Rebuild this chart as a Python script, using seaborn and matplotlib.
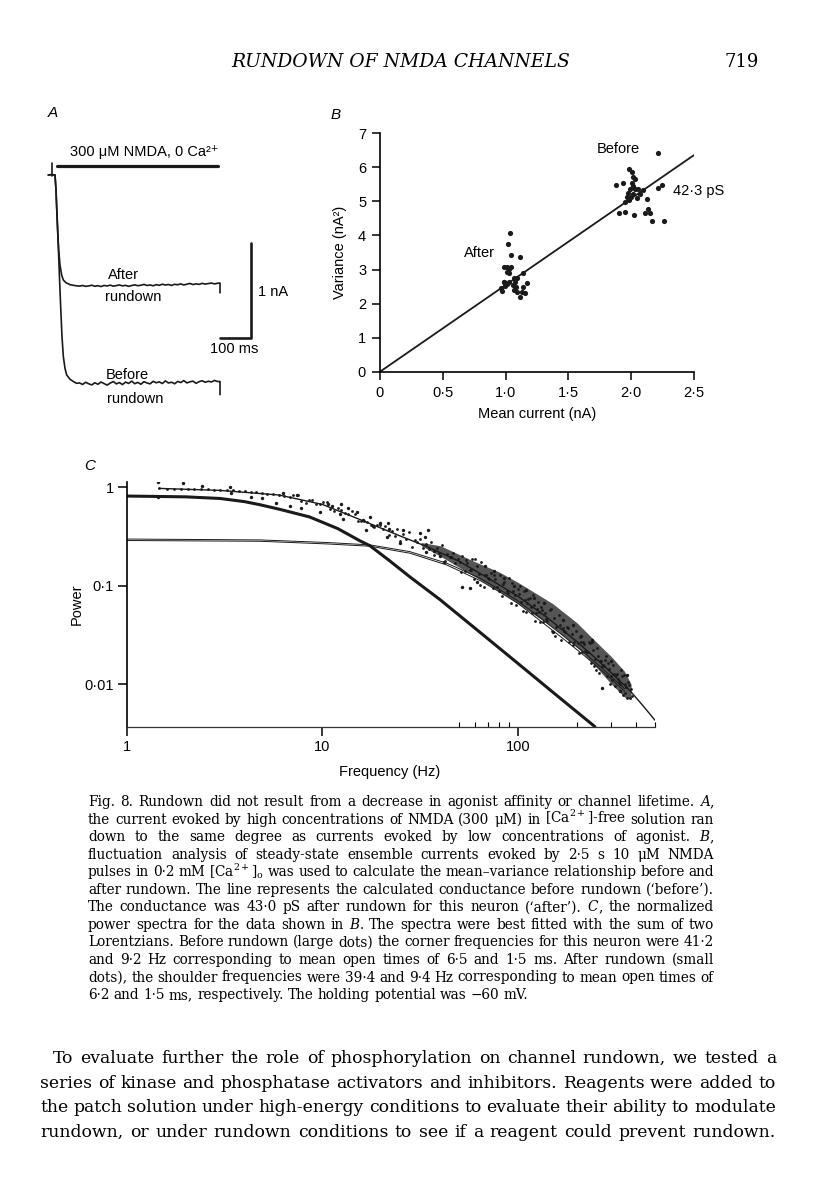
import matplotlib
matplotlib.use("Agg")
import matplotlib.pyplot as plt
from matplotlib.transforms import IdentityTransform
from matplotlib.ticker import FixedLocator, NullLocator, NullFormatter
import seaborn as sns

W, H = 816, 1200

# ---------------- data: panel A, whole-cell currents (ms, nA)
plateau_t = [80, 90, 100, 110, 120, 130, 140, 150, 160, 170, 180, 190, 200, 210, 220, 230,
             240, 250, 260, 270, 280, 290, 300, 310, 320, 330, 340, 350, 360, 370, 380, 390,
             400, 410, 420, 430, 440, 450, 460, 470, 480, 490, 500, 510, 520, 530]
after_t = [-22, -11, 0, 3.3, 5.4, 8.7, 12, 16.3, 21.7, 27.2, 35.9, 48.9, 60, 70] + plateau_t + [538, 538]
after_i = [0, 0.004, 0, -0.159, -0.336, -0.583, -0.795, -0.954, -1.06, -1.114, -1.142, -1.163, -1.170, -1.175,
           -1.178, -1.172, -1.181, -1.176, -1.169, -1.180, -1.174, -1.183, -1.171, -1.177,
           -1.168, -1.179, -1.173, -1.166, -1.176, -1.170, -1.181, -1.172, -1.165, -1.174,
           -1.169, -1.160, -1.172, -1.166, -1.175, -1.163, -1.170, -1.158, -1.167, -1.161,
           -1.171, -1.159, -1.164, -1.155, -1.166, -1.158, -1.150, -1.162, -1.154, -1.160,
           -1.149, -1.157, -1.151, -1.146, -1.155, -1.148,
           -1.146, -1.25]
before_t = [-22, -11, 0, 3.3, 5.4, 8.7, 10.9, 14.1, 18.5, 22.8, 27.2, 32.6, 38, 48.9, 59.8, 70.6] + plateau_t + [538, 538]
before_i = [0, 0.004, 0, -0.159, -0.336, -0.6, -0.76, -1.043, -1.396, -1.714, -1.926, -2.05, -2.12, -2.166, -2.19, -2.209,
            -2.205, -2.221, -2.198, -2.214, -2.226, -2.203, -2.219, -2.195, -2.212, -2.228,
            -2.207, -2.190, -2.215, -2.201, -2.222, -2.196, -2.210, -2.186, -2.213, -2.199,
            -2.219, -2.192, -2.205, -2.215, -2.188, -2.203, -2.194, -2.211, -2.183, -2.206,
            -2.197, -2.214, -2.189, -2.201, -2.180, -2.205, -2.193, -2.186, -2.209, -2.191,
            -2.182, -2.198, -2.187, -2.195, -2.178, -2.190,
            -2.19, -2.33]
onset_t, onset_i = [-10.8, -10.8], [0.124, -0.01]
bar_t, bar_i = [5.5, 532], [0.095, 0.095]
scale_t, scale_i = [538, 638, 638], [-1.725, -1.725, -0.724]

# ---------------- data: panel B, mean-variance (nA, nA^2)
before_mean = [1.876, 1.937, 1.982, 2.009, 2.017, 2.030, 2.004, 1.990, 2.030, 2.057, 2.017, 1.996,
               1.964, 1.951, 1.906, 1.951, 2.025, 2.070, 2.097, 2.123, 2.136, 2.110, 2.150, 2.168,
               2.211, 2.216, 2.243, 2.264, 1.977, 2.044, 1.985, 2.012]
before_var = [5.48, 5.53, 5.94, 5.85, 5.72, 5.66, 5.55, 5.35, 5.35, 5.35, 5.22, 5.14,
              5.14, 4.99, 4.65, 4.68, 4.60, 5.23, 5.33, 5.07, 4.79, 4.65, 4.65, 4.43,
              6.41, 5.38, 5.48, 4.43, 5.25, 5.09, 5.04, 5.45]
after_mean = [1.035, 1.02, 1.045, 1.115, 0.99, 1.01, 1.03, 1.045, 1.015, 1.03, 1.141, 1.088,
              1.075, 0.99, 1.025, 0.995, 1.01, 1.06, 1.07, 1.085, 1.088, 1.128, 1.154, 1.115,
              1.141, 1.168, 0.96, 0.975, 0.985, 1.065]
after_var = [4.08, 3.74, 3.44, 3.38, 3.08, 3.08, 3.03, 3.08, 2.94, 2.89, 2.89, 2.74,
             2.64, 2.64, 2.64, 2.51, 2.57, 2.54, 2.40, 2.50, 2.35, 2.35, 2.30, 2.20,
             2.48, 2.61, 2.45, 2.38, 2.64, 2.74]
fit_x, fit_y = [0, 2.5], [0, 6.36]

# ---------------- data: panel C, normalized power spectra
after_f = [1.46, 1.6, 1.75, 1.9, 2.05, 2.2, 2.4, 2.6, 2.8, 3.0, 3.25, 3.5, 3.75, 4.0, 4.3, 4.6, 4.9, 5.2, 5.6, 6.0,
           6.4, 7.1, 7.8, 8.5, 9.3, 10.1, 11, 12, 13, 14.1, 15.2, 16.4, 17.7, 19,
           6.8, 7.5, 8.2, 8.9, 9.7, 10.6, 11.5, 12.5, 13.5, 14.6, 15.8, 17, 18.3, 19.6,
           20.3, 21, 21.8, 22.6, 23.4, 24.2, 25, 25.9, 26.8, 27.7, 28.6, 29.6, 30.6, 31.6,
           32.7, 33.8, 34.9, 36, 37.2, 38.4, 39.6, 40.9, 42.2, 43.5, 44.9, 46.3, 47.7, 49.2,
           50.5, 52, 53.5, 55, 56.6, 58.2, 59.8, 61.5, 63.2, 65, 66.8, 68.6, 70.5, 72.4, 74.4,
           76.4, 78.5, 80.6, 82.8, 85, 87.3, 89.6, 92, 94.4, 96.9, 99.4,
           51.2, 54.2, 57.4, 60.6, 64.1, 67.7, 71.4, 75.4, 79.5, 83.9, 88.4, 93.2, 98.1,
           101, 104, 107, 110, 113, 116, 119, 122, 125, 128, 131, 134, 137, 141, 145, 149,
           153, 157, 161, 165, 169, 173, 178, 183, 188, 193, 198,
           102.5, 105.5, 108.5, 111.5, 114.5, 117.5, 120.5, 123.5, 126.5, 129.5, 133, 139, 147,
           155, 163, 171, 180.5, 190.5,
           203, 208, 213, 218, 224, 230, 236, 242, 248, 254, 260, 266, 272, 279, 286, 293, 300,
           307, 314, 321, 328, 335, 342, 350, 358, 366, 374,
           205.5, 215.5, 227, 239, 251, 263, 275.5, 289.5, 303.5, 317.5, 331.5, 346, 362, 370,
           210.5, 221, 233, 245, 257, 269, 282.5, 296.5, 310.5, 324.5, 338.5, 354, 378, 382]
after_p = [0.975, 0.97, 0.972, 0.965, 0.968, 0.962, 0.958, 0.955, 0.948, 0.93, 0.935, 0.93, 0.918, 0.91, 0.9,
           0.89, 0.875, 0.86, 0.85, 0.835,
           0.820, 0.838, 0.733, 0.745, 0.676, 0.715, 0.597, 0.622, 0.553, 0.570, 0.455, 0.455, 0.415, 0.416,
           0.793, 0.839, 0.700, 0.736, 0.672, 0.712, 0.575, 0.587, 0.540, 0.532, 0.450, 0.444, 0.396, 0.414,
           0.376, 0.407, 0.327, 0.362, 0.323, 0.377, 0.282, 0.334, 0.298, 0.355, 0.249, 0.290, 0.276, 0.298,
           0.239, 0.264, 0.236, 0.276, 0.206, 0.244, 0.217, 0.257, 0.180, 0.210, 0.198, 0.214, 0.171, 0.188,
           0.175, 0.201, 0.142, 0.171, 0.144, 0.188, 0.116, 0.158, 0.131, 0.173, 0.0965, 0.128, 0.119,
           0.136, 0.0955, 0.116, 0.0977, 0.128, 0.0792, 0.108, 0.0893, 0.119, 0.0661, 0.0874, 0.081, 0.092,
           0.138, 0.183, 0.146, 0.189, 0.101, 0.130, 0.117, 0.130, 0.089, 0.104, 0.085, 0.107, 0.0636,
           0.0824, 0.0688, 0.0888, 0.0544, 0.0728, 0.0605, 0.0805, 0.0441, 0.0582, 0.054, 0.0614, 0.043,
           0.0524, 0.0437, 0.0563, 0.0344, 0.0465, 0.0384, 0.0508, 0.0281, 0.0369, 0.034, 0.0384, 0.0267,
           0.0321, 0.0265, 0.0344,
           0.0997, 0.0551, 0.0723, 0.0665, 0.0755, 0.0533, 0.0637, 0.053, 0.0688, 0.0424, 0.0566, 0.0461,
           0.0581, 0.0312, 0.0395, 0.035, 0.0375, 0.0252,
           0.0264, 0.0301, 0.0212, 0.0254, 0.0212, 0.0269, 0.0165, 0.0220, 0.0180, 0.0235, 0.0129, 0.0170,
           0.0156, 0.0176, 0.0122, 0.0144, 0.0121, 0.0155, 0.0095, 0.0128, 0.0106, 0.0140, 0.0077, 0.0101,
           0.0093, 0.0105, 0.0073,
           0.0208, 0.0270, 0.0212, 0.0265, 0.0138, 0.0173, 0.0152, 0.0164, 0.0109, 0.0124, 0.0100, 0.0124,
           0.0073, 0.0097,
           0.0268, 0.0216, 0.0263, 0.0153, 0.0195, 0.0154, 0.0191, 0.0101, 0.0126, 0.0112, 0.0122, 0.0082,
           0.0089, 0.0076]
before_f = [1.45, 1.45, 1.95, 2.42, 3.37, 3.4, 4.3, 4.9, 5.8, 6.3, 6.8, 7.4, 7.8, 9.7, 10.7, 11.2, 12.3,
            12.5, 12.8, 13.5, 15.0, 16.2, 16.8, 17.5, 18.2, 19.7, 21.3, 21.7, 22.0, 24.9, 25.9, 31.5,
            33.5, 34.5, 34.0, 37.0, 40.0, 42.0, 45.5, 52, 57, 62, 68, 75, 85, 95, 110, 120, 135, 150,
            170, 190, 210, 240, 269, 300, 330, 360]
before_p = [1.14, 0.80, 1.11, 1.03, 1.01, 0.87, 0.80, 0.77, 0.70, 0.88, 0.645, 0.83, 0.61, 0.565, 0.68,
            0.65, 0.54, 0.68, 0.48, 0.61, 0.565, 0.47, 0.37, 0.50, 0.40, 0.43, 0.31, 0.43, 0.38, 0.27,
            0.37, 0.34, 0.31, 0.37, 0.22, 0.225, 0.20, 0.175, 0.197, 0.097, 0.094, 0.11, 0.16, 0.14, 0.12,
            0.10, 0.09, 0.075, 0.066, 0.034, 0.045, 0.040, 0.031, 0.028, 0.0092, 0.017, 0.0085, 0.0125]
band_f = [32, 40, 60, 80, 100, 150, 200, 250, 300, 350, 378]
band_lo = [0.255, 0.2, 0.124, 0.088, 0.066, 0.038, 0.024, 0.0150, 0.0100, 0.0074, 0.0070]
band_hi = [0.275, 0.255, 0.176, 0.138, 0.108, 0.066, 0.042, 0.027, 0.019, 0.0135, 0.0100]
slow_f = [1, 2, 3, 4, 4.8, 6, 8.6, 12, 15.6, 17.5, 22, 28, 40, 63, 100, 160, 247]
slow_p = [0.815, 0.80, 0.77, 0.715, 0.665, 0.60, 0.50, 0.38, 0.285, 0.255, 0.18, 0.123, 0.072,
          0.0344, 0.0162, 0.0075, 0.0037]
fast_f = [1, 4.8, 10.5, 17.5, 28, 43, 50.4, 65, 80, 100, 130, 170, 220, 280, 350]
fast_before_p = [0.298, 0.292, 0.275, 0.26, 0.222, 0.17, 0.148, 0.117, 0.092, 0.070, 0.047, 0.031,
                 0.0205, 0.0135, 0.0090]
fast_after_p = [0.288, 0.283, 0.266, 0.252, 0.214, 0.163, 0.141, 0.111, 0.087, 0.066, 0.044, 0.029,
                0.0192, 0.0127, 0.0085]
sum_f = [1.46, 3, 6, 10, 16, 25, 35, 50, 70, 100, 140, 200, 260, 320, 375, 430, 501]
sum_p = [0.975, 0.93, 0.835, 0.67, 0.46, 0.32, 0.245, 0.177, 0.12, 0.078, 0.048, 0.027, 0.017,
         0.0115, 0.0085, 0.0062, 0.0043]

caption = [
    "Fig. 8. Rundown did not result from a decrease in agonist affinity or channel lifetime. *A*,",
    "the current evoked by high concentrations of NMDA (300 μM) in [Ca$^{2+}$]-free solution ran",
    "down to the same degree as currents evoked by low concentrations of agonist. *B*,",
    "fluctuation analysis of steady-state ensemble currents evoked by 2·5 s 10 μM NMDA",
    "pulses in 0·2 mM [Ca$^{2+}$]$_\\mathrm{o}$ was used to calculate the mean–variance relationship before and",
    "after rundown. The line represents the calculated conductance before rundown (‘before’).",
    "The conductance was 43·0 pS after rundown for this neuron (‘after’). *C*, the normalized",
    "power spectra for the data shown in *B*. The spectra were best fitted with the sum of two",
    "Lorentzians. Before rundown (large dots) the corner frequencies for this neuron were 41·2",
    "and 9·2 Hz corresponding to mean open times of 6·5 and 1·5 ms. After rundown (small",
    "dots), the shoulder frequencies were 39·4 and 9·4 Hz corresponding to mean open times of",
    "6·2 and 1·5 ms, respectively. The holding potential was −60 mV.",
]
body = [
    "To evaluate further the role of phosphorylation on channel rundown, we tested a",
    "series of kinase and phosphatase activators and inhibitors. Reagents were added to",
    "the patch solution under high-energy conditions to evaluate their ability to modulate",
    "rundown, or under rundown conditions to see if a reagent could prevent rundown.",
]

# ---------------- style
sns.set_theme(style="ticks")
SANS = ["Liberation Sans", "DejaVu Sans"]
SERIF = ["DejaVu Serif", "DejaVu Sans"]
plt.rcParams["font.family"] = SANS
plt.rcParams["mathtext.fontset"] = "dejavuserif"
plt.rcParams["axes.linewidth"] = 1.2
for key in ["text.color", "axes.labelcolor", "xtick.color", "ytick.color", "axes.edgecolor"]:
    plt.rcParams[key] = "black"

fig = plt.figure(figsize=(W / 100, H / 100), dpi=100)
fig.patch.set_facecolor("white")
rend = fig.canvas.get_renderer()


def box(l, t, r, b):
    return [l / W, 1 - b / H, (r - l) / W, (b - t) / H]


def seg_word(w):
    parts = w.split("*")
    return [(p, "italic" if k % 2 else "normal") for k, p in enumerate(parts) if p]


def words_width(line, size):
    total = 0
    for w in line.split():
        for s, st in seg_word(w):
            t = fig.text(0, 0, s, fontsize=size, family=SERIF, style=st, transform=IdentityTransform())
            total += t.get_window_extent(rend).width
            t.remove()
    return total


def fit_size(lines, widths, gmin):
    return min(10 * (wd - (len(l.split()) - 1) * gmin) / words_width(l, 10)
               for l, wd in zip(lines, widths))


def set_line(line, x0, x1, base, size, justify=True):
    placed, total = [], 0
    for w in line.split():
        items, wsum = [], 0
        for s, st in seg_word(w):
            t = fig.text(0, H - base, s, fontsize=size, family=SERIF, style=st,
                         transform=IdentityTransform(), ha="left", va="baseline")
            items.append((t, wsum))
            wsum += t.get_window_extent(rend).width
        placed.append((items, wsum))
        total += wsum
    gap = (x1 - x0 - total) / (len(placed) - 1) if justify else size * 0.42
    x = x0
    for items, wsum in placed:
        for t, off in items:
            t.set_x(x + off)
        x += wsum + gap


# ---------------- panel A
axA = fig.add_axes(box(40, 140, 300, 410))
for tx, iy in [(after_t, after_i), (before_t, before_i), (onset_t, onset_i)]:
    sns.lineplot(x=tx, y=iy, ax=axA, color="k", lw=1.2, estimator=None, sort=False)
sns.lineplot(x=bar_t, y=bar_i, ax=axA, color="k", lw=2.3, estimator=None, sort=False)
sns.lineplot(x=scale_t, y=scale_i, ax=axA, color="k", lw=1.9, estimator=None, sort=False)
axA.set_xlim(-48.9, 798.8)
axA.set_ylim(-2.492, 0.371)
axA.axis("off")
axA.text(290, 0.247, "300 μM NMDA, 0 Ca²⁺", ha="center", va="center", fontsize=10.5)
axA.text(223, -1.06, "After", ha="center", va="center", fontsize=10.5)
axA.text(255, -1.297, "rundown", ha="center", va="center", fontsize=10.5)
axA.text(236, -2.121, "Before", ha="center", va="center", fontsize=10.5)
axA.text(261, -2.379, "rundown", ha="center", va="center", fontsize=10.5)
axA.text(712, -1.244, "1 nA", ha="center", va="center", fontsize=10.5)
axA.text(584, -1.848, "100 ms", ha="center", va="center", fontsize=10.5)

# ---------------- panel B
axB = fig.add_axes(box(380, 133.3, 694, 371.7))
sns.lineplot(x=fit_x, y=fit_y, ax=axB, color="k", lw=1.3)
sns.scatterplot(x=before_mean, y=before_var, ax=axB, color="k", s=14, linewidth=0)
sns.scatterplot(x=after_mean, y=after_var, ax=axB, color="k", s=14, linewidth=0)
axB.set_xlim(0, 2.5)
axB.set_ylim(0, 7)
axB.set_xticks([0, 0.5, 1, 1.5, 2, 2.5])
axB.set_xticklabels(["0", "0·5", "1·0", "1·5", "2·0", "2·5"])
axB.set_yticks(range(8))
axB.set_yticklabels([str(v) for v in range(8)])
axB.tick_params(direction="out", length=6, width=1.1, labelsize=10.5, pad=4)
sns.despine(ax=axB)
axB.set_xlabel("Mean current (nA)", fontsize=10.5)
axB.set_ylabel("Variance (nA²)", fontsize=10.5)
axB.xaxis.set_label_coords(0.5, -0.15)
axB.yaxis.set_label_coords(-0.105, 0.5)
axB.text(1.90, 6.53, "Before", ha="center", va="center", fontsize=10.5)
axB.text(0.79, 3.49, "After", ha="center", va="center", fontsize=10.5)
axB.text(2.335, 5.31, "42·3 pS", ha="left", va="center", fontsize=10.5)
for c in axB.collections:
    c.set_clip_on(False)

# ---------------- panel C
axC = fig.add_axes(box(126.7, 481.7, 655, 727))
axC.fill_between(band_f, band_lo, band_hi, color="0.08", alpha=0.72, lw=0)
sns.lineplot(x=slow_f, y=slow_p, ax=axC, color="k", lw=2.2)
sns.lineplot(x=fast_f, y=fast_before_p, ax=axC, color="k", lw=0.7)
sns.lineplot(x=fast_f, y=fast_after_p, ax=axC, color="k", lw=0.7)
sns.lineplot(x=sum_f, y=sum_p, ax=axC, color="k", lw=1.0)
sns.scatterplot(x=after_f, y=after_p, ax=axC, color="k", s=4, linewidth=0)
sns.scatterplot(x=before_f, y=before_p, ax=axC, color="k", s=6, linewidth=0)
axC.set_xscale("log")
axC.set_yscale("log")
axC.set_xlim(1, 501)
axC.set_ylim(0.00367, 1.14)
axC.xaxis.set_major_locator(FixedLocator([1, 10, 100]))
axC.set_xticklabels(["1", "10", "100"])
axC.xaxis.set_minor_locator(FixedLocator([50, 60, 70, 80, 90, 200, 300, 400, 500]))
axC.xaxis.set_minor_formatter(NullFormatter())
axC.yaxis.set_major_locator(FixedLocator([0.01, 0.1, 1]))
axC.set_yticklabels(["0·01", "0·1", "1"])
axC.yaxis.set_minor_locator(NullLocator())
axC.tick_params(which="major", direction="out", length=6.5, width=1.1, labelsize=10.5, pad=3)
axC.tick_params(axis="x", which="minor", direction="in", length=3.5, width=0.8)
sns.despine(ax=axC)
axC.spines["bottom"].set_linewidth(0.9)
axC.spines["bottom"].set_color("#333333")
axC.set_xlabel("Frequency (Hz)", fontsize=10.5)
axC.set_ylabel("Power", fontsize=10.5)
axC.xaxis.set_label_coords(0.498, -0.155)
axC.yaxis.set_label_coords(-0.081, 0.5)

# ---------------- panel letters and page text
fig.text(53 / W, 1 - 113 / H, "A", fontsize=11, style="italic", ha="center", va="center")
fig.text(336 / W, 1 - 115 / H, "B", fontsize=11, style="italic", ha="center", va="center")
fig.text(90 / W, 1 - 466 / H, "C", fontsize=11, style="italic", ha="center", va="center")

fig.text(401 / W, 1 - 67 / H, "RUNDOWN OF NMDA CHANNELS", family=SERIF, style="italic",
         fontsize=13.5, ha="center", va="baseline")
fig.text(742 / W, 1 - 67 / H, "719", family=SERIF, fontsize=13, ha="center", va="baseline")

cap_size = fit_size(caption[:-1], [626] * (len(caption) - 1), 3.6)
for k, line in enumerate(caption):
    set_line(line, 88, 714, 806 + 17.55 * k, cap_size, justify=(k < len(caption) - 1))
body_size = fit_size(body, [723, 736, 736, 736], 4.8)
for k, line in enumerate(body):
    set_line(line, 53 if k == 0 else 40, 776, 1063 + 24.7 * k, body_size)

fig.savefig("out.png", dpi=100, facecolor="white")
